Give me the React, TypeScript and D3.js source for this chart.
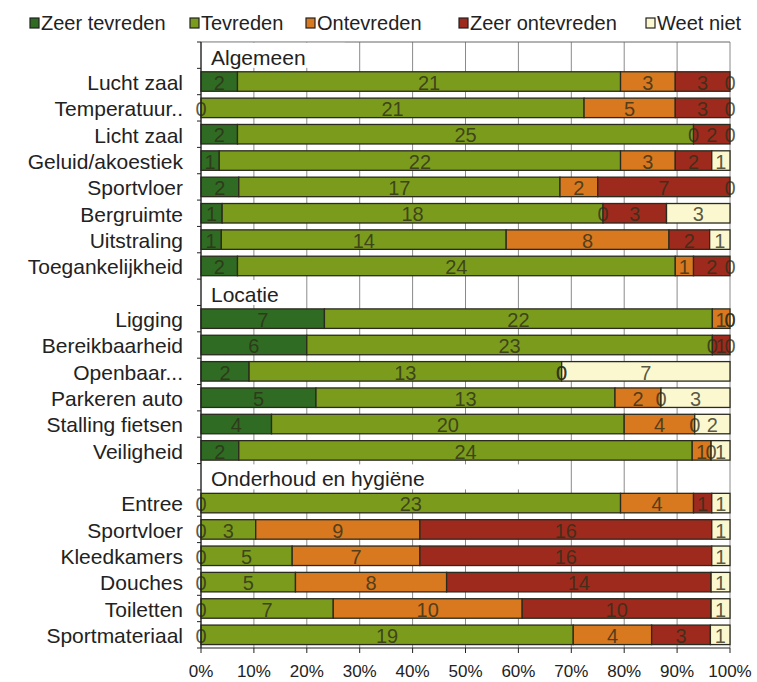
import React from "react";
import * as d3 from "d3";

const seriesNames = ["Zeer tevreden", "Tevreden", "Ontevreden", "Zeer ontevreden", "Weet niet"];
const seriesColors = ["#2f6b22", "#7b9b1d", "#d8781f", "#9e2a1d", "#fbf7cf"];

const groups = ["Algemeen", "Locatie", "Onderhoud en hygiëne"];
const groupSizes = [8, 6, 6];

const categories = [
  "Lucht zaal", "Temperatuur..", "Licht zaal", "Geluid/akoestiek", "Sportvloer", "Bergruimte", "Uitstraling", "Toegankelijkheid",
  "Ligging", "Bereikbaarheid", "Openbaar...", "Parkeren auto", "Stalling fietsen", "Veiligheid",
  "Entree", "Sportvloer", "Kleedkamers", "Douches", "Toiletten", "Sportmateriaal",
];

const zeerTevreden = [2, 0, 2, 1, 2, 1, 1, 2, 7, 6, 2, 5, 4, 2, 0, 0, 0, 0, 0, 0];
const tevreden = [21, 21, 25, 22, 17, 18, 14, 24, 22, 23, 13, 13, 20, 24, 23, 3, 5, 5, 7, 19];
const ontevreden = [3, 5, 0, 3, 2, 0, 8, 1, 1, 0, 0, 2, 4, 1, 4, 9, 7, 8, 10, 4];
const zeerOntevreden = [3, 3, 2, 2, 7, 3, 2, 2, 0, 1, 0, 0, 0, 0, 1, 16, 16, 14, 10, 3];
const weetNiet = [0, 0, 0, 1, 0, 3, 1, 0, 0, 0, 7, 3, 2, 1, 1, 1, 1, 1, 1, 1];

const xTicks = [0, 0.1, 0.2, 0.3, 0.4, 0.5, 0.6, 0.7, 0.8, 0.9, 1];

const FONT = "'Liberation Sans', Arial, sans-serif";

export default function App() {
  const W = 757, H = 682;
  const left = 201, right = 730, top = 42, bottom = 648;

  type Row = { key: string; header?: string; idx?: number };
  const rows: Row[] = [];
  let c = 0;
  groups.forEach((g, gi) => {
    rows.push({ key: "h" + gi, header: g });
    for (let i = 0; i < groupSizes[gi]; i++) {
      rows.push({ key: "c" + c, idx: c });
      c++;
    }
  });

  const y = d3.scaleBand<string>().domain(rows.map(r => r.key)).range([top, bottom]).paddingInner(0.26).paddingOuter(0.13);
  const x = d3.scaleLinear().domain([0, 1]).range([left, right]);
  const step = y.step();

  const seriesVals = [zeerTevreden, tevreden, ontevreden, zeerOntevreden, weetNiet];
  const table = categories.map((cat, i) => {
    const o: any = { cat };
    seriesNames.forEach((s, si) => (o[s] = seriesVals[si][i]));
    return o;
  });
  const stacked = d3.stack<any>().keys(seriesNames).offset(d3.stackOffsetExpand)(table);

  const headerBox = [0.27, 0.17, 0.64];
  const legendX = [30, 190, 306, 459, 646];

  return (
    <svg width={W} height={H} style={{ display: "block", position: "absolute", left: 0, top: 0, background: "#fff" }} fontFamily={FONT}>
      <rect x={0} y={0} width={W} height={H} fill="#fff" />
      {/* legend */}
      {seriesNames.map((s, i) => (
        <g key={s} transform={`translate(${legendX[i]},23)`}>
          <rect x={0} y={-5} width={9} height={10} fill={seriesColors[i]} stroke="#222" strokeWidth={1.2} />
          <text x={11} y={0} dy="0.35em" fontSize={20} fill="#222">{s}</text>
        </g>
      ))}

      {/* gridlines */}
      {xTicks.map(t => (
        <line key={t} x1={x(t)} x2={x(t)} y1={top} y2={bottom} stroke="#8a8a8a" strokeWidth={1} />
      ))}
      <line x1={left} x2={right} y1={top} y2={top} stroke="#666" strokeWidth={1} />

      {/* header rows */}
      {rows.filter(r => r.header).map((r, gi) => {
        const yy = (y(r.key) as number) + y.bandwidth() / 2;
        return (
          <g key={r.key}>
            <rect x={left + 1} y={(y(r.key) as number) - step * 0.1} width={x(headerBox[gi]) - left} height={step * 0.95} fill="#fff" />
            <text x={left + 10} y={yy + 2} dy="0.35em" fontSize={21} fill="#222">{r.header}</text>
          </g>
        );
      })}

      {/* bars */}
      {stacked.map((layer, si) => (
        <g key={seriesNames[si]}>
          {layer.map((d, i) => {
            const key = "c" + i;
            const x0 = x(d[0]), x1 = x(d[1]);
            return (
              <rect key={i} x={x0} y={y(key)} width={Math.max(0, x1 - x0)} height={y.bandwidth()}
                fill={seriesColors[si]} stroke="#2a2a1e" strokeWidth={1.3} />
            );
          })}
        </g>
      ))}
      {/* data labels */}
      {stacked.map((layer, si) => (
        <g key={"l" + seriesNames[si]}>
          {layer.map((d, i) => {
            const key = "c" + i;
            const xm = (x(d[0]) + x(d[1])) / 2;
            const yy = (y(key) as number) + y.bandwidth() / 2;
            return (
              <text key={i} x={xm} y={yy + 1} dy="0.36em" textAnchor="middle" fontSize={20} fill="#2e2e1a" fillOpacity={0.8}>
                {seriesVals[si][i]}
              </text>
            );
          })}
        </g>
      ))}

      {/* y axis */}
      <line x1={left} x2={left} y1={top} y2={bottom} stroke="#222" strokeWidth={1.2} />
      {rows.map((r, i) => (
        <line key={"t" + i} x1={left - 4} x2={left} y1={top + i * step} y2={top + i * step} stroke="#222" strokeWidth={1} />
      ))}
      <line x1={left - 4} x2={left} y1={bottom} y2={bottom} stroke="#222" strokeWidth={1} />
      {rows.filter(r => !r.header).map(r => (
        <text key={"yl" + r.key} x={183} y={(y(r.key) as number) + y.bandwidth() / 2 + 1} dy="0.35em" textAnchor="end" fontSize={21} fill="#222">
          {categories[r.idx as number]}
        </text>
      ))}

      {/* x axis */}
      <line x1={left} x2={right} y1={bottom} y2={bottom} stroke="#222" strokeWidth={1.2} />
      {xTicks.map(t => (
        <g key={"x" + t}>
          <line x1={x(t)} x2={x(t)} y1={bottom} y2={bottom + 5} stroke="#222" />
          <text x={x(t)} y={bottom + 23} dy="0.35em" textAnchor="middle" fontSize={17} fill="#222">
            {d3.format(".0%")(t)}
          </text>
        </g>
      ))}
    </svg>
  );
}
